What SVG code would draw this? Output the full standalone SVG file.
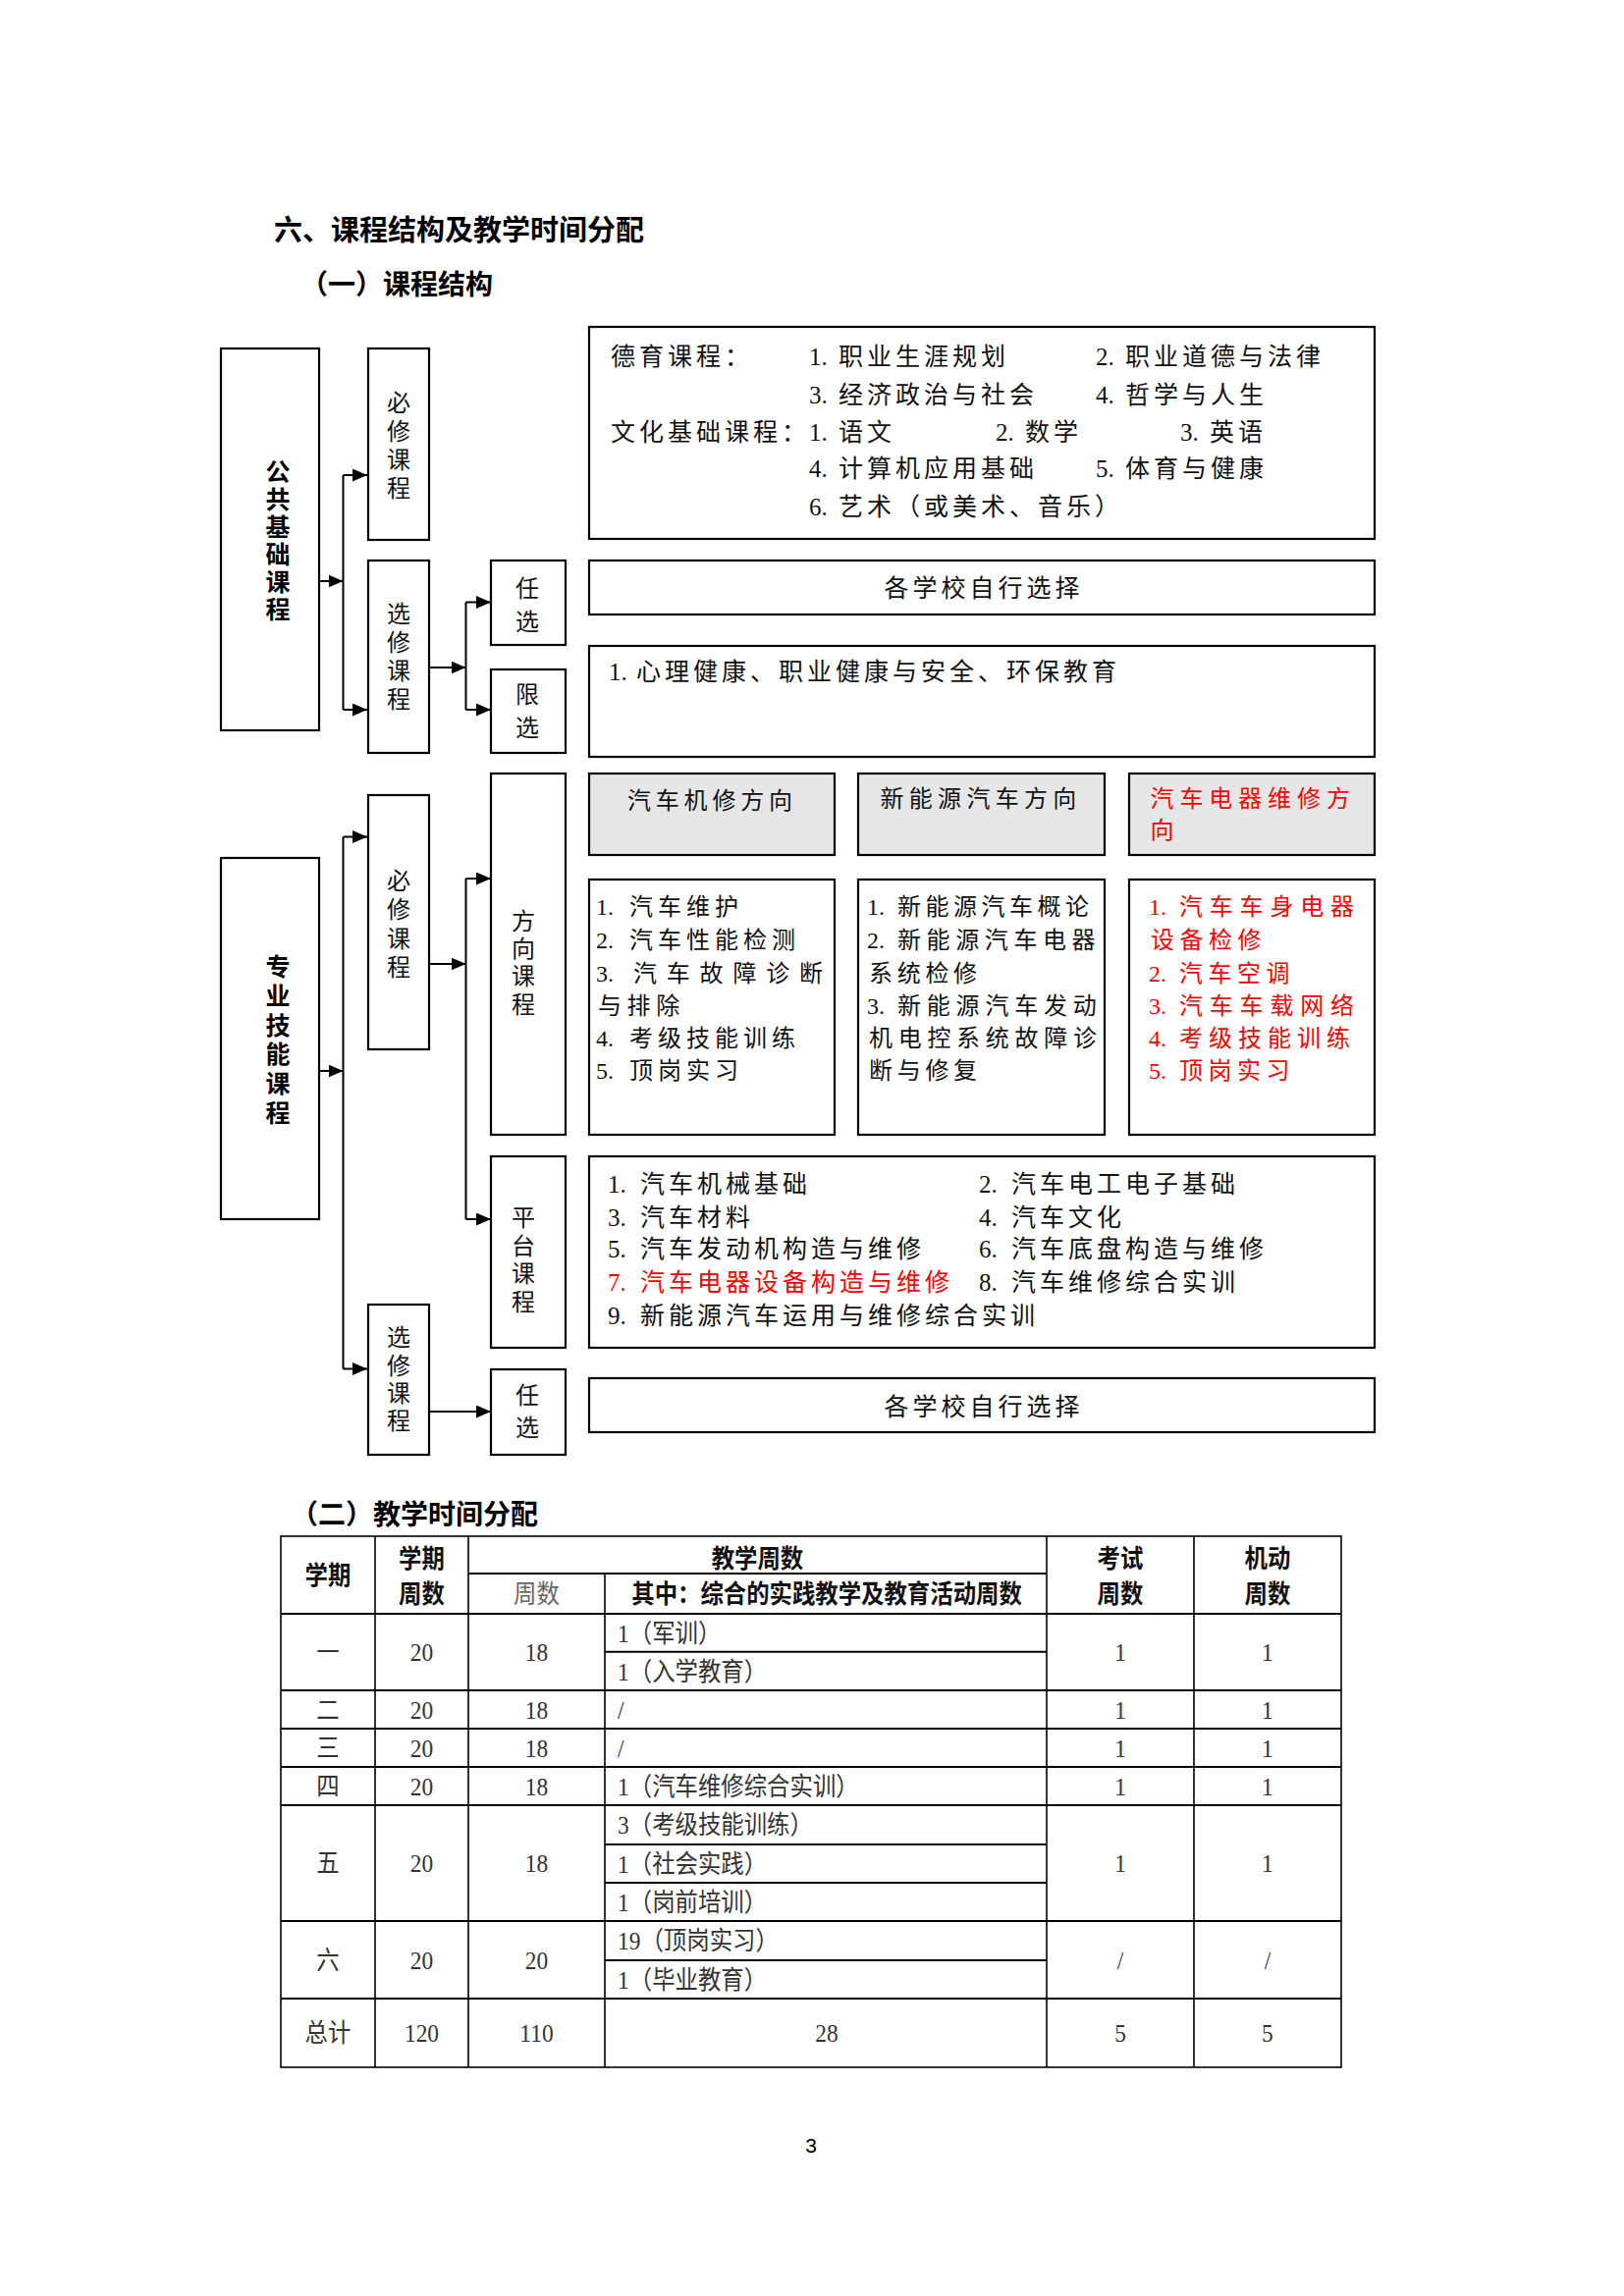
<svg xmlns="http://www.w3.org/2000/svg" width="1654" height="2339" viewBox="0 0 1654 2339">
<defs>
<style>
.box{fill:#fff;stroke:#000;stroke-width:2.2}
.gray{fill:#e6e6e6;stroke:#000;stroke-width:2.2}
.t{font-family:"Liberation Serif","Noto Sans CJK SC",serif;font-size:25px;fill:#111}
.s{font-family:"Liberation Serif","Noto Sans CJK SC",serif;font-size:24px;fill:#111}
.c{letter-spacing:4px}
.c5{letter-spacing:5px}
.v{font-family:"Noto Sans CJK SC",sans-serif;font-size:24px;fill:#111;writing-mode:vertical-rl;text-orientation:upright}
.vb{font-family:"Noto Sans CJK SC",sans-serif;font-size:25px;font-weight:700;fill:#000;writing-mode:vertical-rl;text-orientation:upright}
.h{font-family:"Noto Sans CJK SC",sans-serif;font-weight:700;font-size:29px;fill:#000}
.h2{font-family:"Noto Sans CJK SC",sans-serif;font-weight:700;font-size:28px;fill:#000}
.red{fill:#ff0000}
.conn path{stroke:#000;stroke-width:2;fill:none}
.tl{stroke:#000;stroke-width:1.6;fill:none}
.tb{font-family:"Liberation Serif","Noto Sans CJK SC",serif;font-size:26px;fill:#333}
.tbm{text-anchor:middle}
.thb{font-family:"Noto Sans CJK SC",sans-serif;font-size:26px;font-weight:700;fill:#111;text-anchor:middle}
.thl{font-family:"Noto Sans CJK SC",sans-serif;font-size:26px;fill:#666;text-anchor:middle}
.pg{font-family:"Liberation Sans",sans-serif;font-size:21px;fill:#000;text-anchor:middle}
</style>
<marker id="ah" markerUnits="userSpaceOnUse" markerWidth="15" markerHeight="13" refX="15" refY="6.5" orient="auto">
<path d="M0,0 L15,6.5 L0,13 Z" fill="#000"/>
</marker>
</defs>
<rect x="0" y="0" width="1654" height="2339" fill="#fff"/>

<text class="h" x="279" y="245">六、课程结构及教学时间分配</text>
<text class="h2" x="306" y="300">（一）课程结构</text>

<!-- Public foundation -->
<g id="gonggong">
<rect class="box" x="225" y="355" width="100" height="389"/>
<text class="vb" x="283" y="468" style="letter-spacing:3px">公共基础课程</text>
</g>
<g id="pub-bixiu">
<rect class="box" x="375" y="355" width="62" height="195"/>
<text class="v" x="406" y="398" style="letter-spacing:5px">必修课程</text>
</g>
<g id="pub-xuanxiu">
<rect class="box" x="375" y="571" width="62" height="196"/>
<text class="v" x="406" y="613" style="letter-spacing:5px">选修课程</text>
</g>
<g id="pub-renxuan">
<rect class="box" x="500" y="571" width="76" height="86"/>
<text class="v" x="537" y="587" style="letter-spacing:10px">任选</text>
</g>
<g id="pub-xianxuan">
<rect class="box" x="500" y="682" width="76" height="85"/>
<text class="v" x="537" y="695" style="letter-spacing:10px">限选</text>
</g>
<g id="pub-bixiu-content">
<rect class="box" x="600" y="333" width="800" height="216"/>
<text class="t" y="371.5"><tspan x="622" class="c">德育课程：</tspan><tspan x="824">1.</tspan><tspan x="854" class="c">职业生涯规划</tspan><tspan x="1116">2.</tspan><tspan x="1146" class="c">职业道德与法律</tspan></text>
<text class="t" y="410.5"><tspan x="824">3.</tspan><tspan x="854" class="c">经济政治与社会</tspan><tspan x="1116">4.</tspan><tspan x="1146" class="c">哲学与人生</tspan></text>
<text class="t" y="448.5"><tspan x="622" class="c">文化基础课程：</tspan><tspan x="824">1.</tspan><tspan x="854" class="c">语文</tspan><tspan x="1014">2.</tspan><tspan x="1044" class="c">数学</tspan><tspan x="1202">3.</tspan><tspan x="1232" class="c">英语</tspan></text>
<text class="t" y="486"><tspan x="824">4.</tspan><tspan x="854" class="c">计算机应用基础</tspan><tspan x="1116">5.</tspan><tspan x="1146" class="c">体育与健康</tspan></text>
<text class="t" y="524.5"><tspan x="824">6.</tspan><tspan x="854" class="c">艺术（或美术、音乐）</tspan></text>
</g>
<g id="pub-renxuan-content">
<rect class="box" x="600" y="571" width="800" height="55"/>
<text class="t c" x="1002" y="607.5" text-anchor="middle">各学校自行选择</text>
</g>
<g id="pub-xianxuan-content">
<rect class="box" x="600" y="658" width="800" height="113"/>
<text class="t" y="692.5"><tspan x="620">1.</tspan><tspan x="648" class="c">心理健康、职业健康与安全、环保教育</tspan></text>
</g>

<!-- Professional skills -->
<g id="zhuanye">
<rect class="box" x="225" y="874" width="100" height="368"/>
<text class="vb" x="283" y="972.3" style="letter-spacing:4.7px">专业技能课程</text>
</g>
<g id="pro-bixiu">
<rect class="box" x="375" y="810" width="62" height="259"/>
<text class="v" x="406" y="885" style="letter-spacing:5.3px">必修课程</text>
</g>
<g id="pro-fangxiang">
<rect class="box" x="500" y="788" width="76" height="368"/>
<text class="v" x="533" y="925.6" style="letter-spacing:4.3px">方向课程</text>
</g>
<g id="pro-pingtai">
<rect class="box" x="500" y="1178" width="76" height="195"/>
<text class="v" x="533" y="1227.6" style="letter-spacing:4.8px">平台课程</text>
</g>
<g id="pro-xuanxiu">
<rect class="box" x="375" y="1329" width="62" height="153"/>
<text class="v" x="406" y="1350" style="letter-spacing:4.4px">选修课程</text>
</g>
<g id="pro-renxuan">
<rect class="box" x="500" y="1395" width="76" height="87"/>
<text class="v" x="537" y="1409" style="letter-spacing:9px">任选</text>
</g>

<g id="dir-jixiu">
<rect class="gray" x="600" y="788" width="250" height="83"/>
<text class="s" x="639" y="824" style="letter-spacing:4.8px">汽车机修方向</text>
<rect class="box" x="600" y="896" width="250" height="260"/>
<text class="s" y="932"><tspan x="607">1. </tspan><tspan x="641" class="c5">汽车维护</tspan></text>
<text class="s" y="966"><tspan x="607">2. </tspan><tspan x="641" class="c5">汽车性能检测</tspan></text>
<text class="s" y="999.5"><tspan x="607">3. </tspan><tspan x="645" style="letter-spacing:9.8px">汽车故障诊断</tspan></text>
<text class="s" y="1033"><tspan x="609" style="letter-spacing:5.6px">与排除</tspan></text>
<text class="s" y="1066"><tspan x="607">4. </tspan><tspan x="641" class="c5">考级技能训练</tspan></text>
<text class="s" y="1099"><tspan x="607">5. </tspan><tspan x="641" class="c5">顶岗实习</tspan></text>
</g>
<g id="dir-xinnengyuan">
<rect class="gray" x="874" y="788" width="251" height="83"/>
<text class="s" x="896.5" y="822" style="letter-spacing:5.3px">新能源汽车方向</text>
<rect class="box" x="874" y="896" width="251" height="260"/>
<text class="s" y="932"><tspan x="883">1. </tspan><tspan x="914" style="letter-spacing:4.5px">新能源汽车概论</tspan></text>
<text class="s" y="966"><tspan x="883">2. </tspan><tspan x="914" style="letter-spacing:5.6px">新能源汽车电器</tspan></text>
<text class="s" y="999.5"><tspan x="885" style="letter-spacing:4.7px">系统检修</tspan></text>
<text class="s" y="1033"><tspan x="883">3. </tspan><tspan x="914" style="letter-spacing:5.8px">新能源汽车发动</tspan></text>
<text class="s" y="1066"><tspan x="885" style="letter-spacing:5.7px">机电控系统故障诊</tspan></text>
<text class="s" y="1099"><tspan x="885" style="letter-spacing:4.7px">断与修复</tspan></text>
</g>
<g id="dir-dianqi">
<rect class="gray" x="1150" y="788" width="250" height="83"/>
<text class="s red" x="1171.5" y="822" style="letter-spacing:5.9px">汽车电器维修方</text>
<text class="s red" x="1171.5" y="854">向</text>
<rect class="box" x="1150" y="896" width="250" height="260"/>
<text class="s red" y="932"><tspan x="1170">1. </tspan><tspan x="1201" style="letter-spacing:6.8px">汽车车身电器</tspan></text>
<text class="s red" y="966"><tspan x="1172" style="letter-spacing:5.5px">设备检修</tspan></text>
<text class="s red" y="999.5"><tspan x="1170">2. </tspan><tspan x="1201" style="letter-spacing:5.5px">汽车空调</tspan></text>
<text class="s red" y="1033"><tspan x="1170">3. </tspan><tspan x="1201" style="letter-spacing:6.8px">汽车车载网络</tspan></text>
<text class="s red" y="1066"><tspan x="1170">4. </tspan><tspan x="1201" style="letter-spacing:6px">考级技能训练</tspan></text>
<text class="s red" y="1099"><tspan x="1170">5. </tspan><tspan x="1201" style="letter-spacing:5.5px">顶岗实习</tspan></text>
</g>
<g id="pingtai-content">
<rect class="box" x="600" y="1178" width="800" height="195"/>
<text class="t" y="1214.5"><tspan x="619">1.</tspan><tspan x="652" class="c">汽车机械基础</tspan><tspan x="997">2.</tspan><tspan x="1030" class="c">汽车电工电子基础</tspan></text>
<text class="t" y="1248.5"><tspan x="619">3.</tspan><tspan x="652" class="c">汽车材料</tspan><tspan x="997">4.</tspan><tspan x="1030" class="c">汽车文化</tspan></text>
<text class="t" y="1281"><tspan x="619">5.</tspan><tspan x="652" class="c">汽车发动机构造与维修</tspan><tspan x="997">6.</tspan><tspan x="1030" class="c">汽车底盘构造与维修</tspan></text>
<text class="t" y="1315"><tspan x="619" class="red">7.</tspan><tspan x="652" class="c red">汽车电器设备构造与维修</tspan><tspan x="997">8.</tspan><tspan x="1030" class="c">汽车维修综合实训</tspan></text>
<text class="t" y="1348.5"><tspan x="619">9.</tspan><tspan x="652" class="c">新能源汽车运用与维修综合实训</tspan></text>
</g>
<g id="pro-renxuan-content">
<rect class="box" x="600" y="1404" width="800" height="55"/>
<text class="t c" x="1002" y="1441.5" text-anchor="middle">各学校自行选择</text>
</g>

<g id="connectors" class="conn">
<path d="M325,592 H349.5" marker-end="url(#ah)"/>
<path d="M349.5,484 V723"/>
<path d="M349.5,484 H374" marker-end="url(#ah)"/>
<path d="M349.5,723 H374" marker-end="url(#ah)"/>
<path d="M437,680 H474.5" marker-end="url(#ah)"/>
<path d="M474.5,613.5 V723"/>
<path d="M474.5,613.5 H500" marker-end="url(#ah)"/>
<path d="M474.5,723 H500" marker-end="url(#ah)"/>
<path d="M325,1091 H349.5" marker-end="url(#ah)"/>
<path d="M349.5,852.5 V1394.5"/>
<path d="M349.5,852.5 H374" marker-end="url(#ah)"/>
<path d="M349.5,1394.5 H374" marker-end="url(#ah)"/>
<path d="M437,982 H474.5" marker-end="url(#ah)"/>
<path d="M474.5,895 V1242"/>
<path d="M474.5,895 H500" marker-end="url(#ah)"/>
<path d="M474.5,1242 H500" marker-end="url(#ah)"/>
<path d="M437,1438 H500" marker-end="url(#ah)"/>
</g>

<!-- Table -->
<text class="h2" x="296" y="1553">（二）教学时间分配</text>
<g id="table-lines">
<rect class="tl" x="286" y="1565" width="1080" height="541"/>
<path class="tl" d="M382,1565 V2106 M477,1565 V2106 M616,1603 V2106 M1066,1565 V2106 M1216,1565 V2106"/>
<path class="tl" style="stroke-width:2" d="M477,1603 H1066 M286,1644 H1366 M616,1682.7 H1066 M286,1722 H1366 M286,1761 H1366 M286,1800 H1366 M286,1839 H1366 M616,1879 H1066 M616,1918 H1066 M286,1957 H1366 M616,1997 H1066 M286,2036 H1366"/>
</g>
<g id="table-text" transform="scale(0.9,1)">
<text class="thb" x="371.1" y="1614">学期</text>
<text class="thb" x="477.2" y="1597">学期</text>
<text class="thb" x="477.2" y="1633">周数</text>
<text class="thb" x="857.2" y="1597">教学周数</text>
<text class="thl" x="607.2" y="1633">周数</text>
<text class="thb" x="935.6" y="1633">其中：综合的实践教学及教育活动周数</text>
<text class="thb" x="1267.8" y="1597">考试</text>
<text class="thb" x="1267.8" y="1633">周数</text>
<text class="thb" x="1434.4" y="1597">机动</text>
<text class="thb" x="1434.4" y="1633">周数</text>

<text class="tb tbm" x="371.1" y="1692.5">一</text>
<text class="tb tbm" x="477.2" y="1692.5">20</text>
<text class="tb tbm" x="607.2" y="1692.5">18</text>
<text class="tb" x="699" y="1673">1（军训）</text>
<text class="tb" x="699" y="1712">1（入学教育）</text>
<text class="tb tbm" x="1267.8" y="1692.5">1</text>
<text class="tb tbm" x="1434.4" y="1692.5">1</text>

<text class="tb tbm" x="371.1" y="1751">二</text>
<text class="tb tbm" x="477.2" y="1751">20</text>
<text class="tb tbm" x="607.2" y="1751">18</text>
<text class="tb" x="699" y="1751">/</text>
<text class="tb tbm" x="1267.8" y="1751">1</text>
<text class="tb tbm" x="1434.4" y="1751">1</text>

<text class="tb tbm" x="371.1" y="1790">三</text>
<text class="tb tbm" x="477.2" y="1790">20</text>
<text class="tb tbm" x="607.2" y="1790">18</text>
<text class="tb" x="699" y="1790">/</text>
<text class="tb tbm" x="1267.8" y="1790">1</text>
<text class="tb tbm" x="1434.4" y="1790">1</text>

<text class="tb tbm" x="371.1" y="1829">四</text>
<text class="tb tbm" x="477.2" y="1829">20</text>
<text class="tb tbm" x="607.2" y="1829">18</text>
<text class="tb" x="699" y="1829">1（汽车维修综合实训）</text>
<text class="tb tbm" x="1267.8" y="1829">1</text>
<text class="tb tbm" x="1434.4" y="1829">1</text>

<text class="tb tbm" x="371.1" y="1907.5">五</text>
<text class="tb tbm" x="477.2" y="1907.5">20</text>
<text class="tb tbm" x="607.2" y="1907.5">18</text>
<text class="tb" x="699" y="1868.5">3（考级技能训练）</text>
<text class="tb" x="699" y="1908">1（社会实践）</text>
<text class="tb" x="699" y="1947">1（岗前培训）</text>
<text class="tb tbm" x="1267.8" y="1907.5">1</text>
<text class="tb tbm" x="1434.4" y="1907.5">1</text>

<text class="tb tbm" x="371.1" y="2006">六</text>
<text class="tb tbm" x="477.2" y="2006">20</text>
<text class="tb tbm" x="607.2" y="2006">20</text>
<text class="tb" x="699" y="1986.5">19（顶岗实习）</text>
<text class="tb" x="699" y="2026">1（毕业教育）</text>
<text class="tb tbm" x="1267.8" y="2006">/</text>
<text class="tb tbm" x="1434.4" y="2006">/</text>

<text class="tb tbm" x="371.1" y="2080.5">总计</text>
<text class="tb tbm" x="477.2" y="2080.5">120</text>
<text class="tb tbm" x="607.2" y="2080.5">110</text>
<text class="tb tbm" x="935.6" y="2080.5">28</text>
<text class="tb tbm" x="1267.8" y="2080.5">5</text>
<text class="tb tbm" x="1434.4" y="2080.5">5</text>
</g>

<text class="pg" x="826" y="2193">3</text>
</svg>
